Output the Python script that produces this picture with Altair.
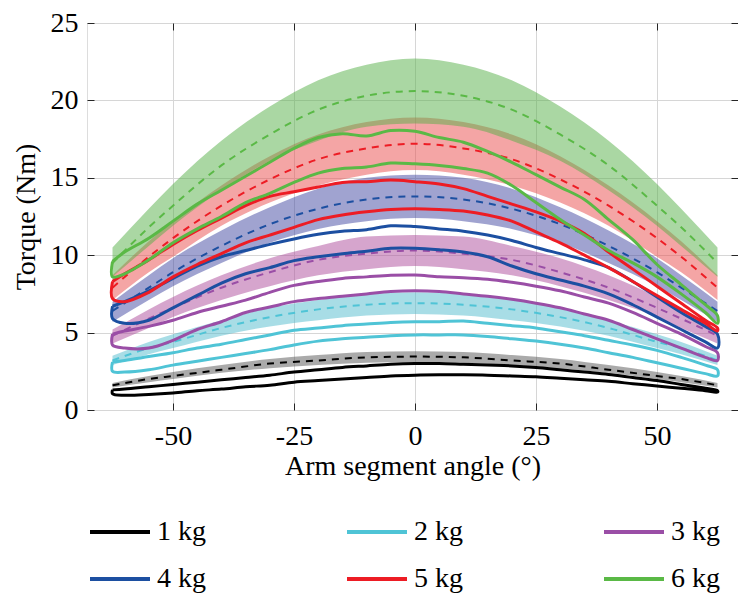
import altair as alt
import pandas as pd

masses = ["1 kg", "2 kg", "3 kg", "4 kg", "5 kg", "6 kg"]
line_colors = ["#000000", "#4fc4d6", "#9a4ea6", "#1c4fa1", "#ed1c24", "#5ab946"]
band_colors = ["#555555", "#51bbcd", "#ad4b9b", "#4147a1", "#e94b4b", "#55af47"]

x_ticks = [-50, -25, 0, 25, 50]
y_ticks = [0, 5, 10, 15, 20, 25]

# ---- model (dashed) and its band ----
theta_model = [-62.5, -55, -50, -40, -30, -20, -10, 0, 10, 20, 30, 40, 50, 55, 62.5]

model_1kg = [1.6, 2.0, 2.2, 2.6, 3.0, 3.2, 3.4, 3.45, 3.4, 3.2, 3.0, 2.6, 2.2, 2.0, 1.6]
band_lo_1kg = [1.45, 1.8, 2.0, 2.4, 2.7, 2.9, 3.05, 3.1, 3.05, 2.9, 2.7, 2.4, 2.0, 1.8, 1.45]
band_hi_1kg = [1.75, 2.2, 2.45, 2.9, 3.3, 3.55, 3.75, 3.8, 3.75, 3.55, 3.3, 2.9, 2.45, 2.2, 1.75]

model_2kg = [3.2, 4.0, 4.4, 5.3, 6.0, 6.5, 6.8, 6.9, 6.8, 6.5, 6.0, 5.3, 4.4, 4.0, 3.2]
band_lo_2kg = [2.9, 3.6, 4.0, 4.8, 5.4, 5.8, 6.1, 6.2, 6.1, 5.8, 5.4, 4.8, 4.0, 3.6, 2.9]
band_hi_2kg = [3.5, 4.4, 4.9, 5.8, 6.6, 7.1, 7.5, 7.6, 7.5, 7.1, 6.6, 5.8, 4.9, 4.4, 3.5]

model_3kg = [4.8, 5.9, 6.6, 7.9, 8.9, 9.7, 10.1, 10.3, 10.1, 9.7, 8.9, 7.9, 6.6, 5.9, 4.8]
band_lo_3kg = [4.3, 5.3, 6.0, 7.1, 8.0, 8.7, 9.1, 9.3, 9.1, 8.7, 8.0, 7.1, 6.0, 5.3, 4.3]
band_hi_3kg = [5.2, 6.5, 7.3, 8.7, 9.8, 10.6, 11.2, 11.3, 11.2, 10.6, 9.8, 8.7, 7.3, 6.5, 5.2]

model_4kg = [6.4, 7.9, 8.9, 10.6, 12.0, 13.0, 13.6, 13.8, 13.6, 13.0, 12.0, 10.6, 8.9, 7.9, 6.4]
band_lo_4kg = [5.7, 7.1, 8.0, 9.5, 10.8, 11.7, 12.2, 12.4, 12.2, 11.7, 10.8, 9.5, 8.0, 7.1, 5.7]
band_hi_4kg = [7.0, 8.7, 9.8, 11.6, 13.1, 14.3, 15.0, 15.2, 15.0, 14.3, 13.1, 11.6, 9.8, 8.7, 7.0]

model_5kg = [7.9, 9.9, 11.1, 13.2, 14.9, 16.2, 16.9, 17.2, 16.9, 16.2, 14.9, 13.2, 11.1, 9.9, 7.9]
band_lo_5kg = [7.1, 8.9, 9.9, 11.9, 13.4, 14.5, 15.2, 15.5, 15.2, 14.5, 13.4, 11.9, 9.9, 8.9, 7.1]
band_hi_5kg = [8.7, 10.9, 12.2, 14.5, 16.4, 17.8, 18.6, 18.9, 18.6, 17.8, 16.4, 14.5, 12.2, 10.9, 8.7]

model_6kg = [9.5, 11.8, 13.2, 15.8, 17.8, 19.4, 20.3, 20.6, 20.3, 19.4, 17.8, 15.8, 13.2, 11.8, 9.5]
band_lo_6kg = [8.6, 10.6, 11.9, 14.2, 16.1, 17.4, 18.3, 18.5, 18.3, 17.4, 16.1, 14.2, 11.9, 10.6, 8.6]
band_hi_6kg = [10.5, 13.0, 14.6, 17.4, 19.6, 21.3, 22.3, 22.7, 22.3, 21.3, 19.6, 17.4, 14.6, 13.0, 10.5]

# ---- measured loops (upper and lower branch) ----
theta_meas = [-62.5, -60, -55, -50, -45, -40, -35, -30, -25, -20, -15, -10, -5, 0,
              5, 10, 15, 20, 25, 30, 35, 40, 45, 50, 55, 60, 62.5]

meas_up_1kg = [1.3, 1.35, 1.5, 1.65, 1.8, 1.95, 2.1, 2.25, 2.45, 2.6, 2.75, 2.85, 2.95, 3.0,
               3.0, 2.95, 2.9, 2.85, 2.75, 2.6, 2.45, 2.3, 2.1, 1.9, 1.65, 1.4, 1.25]
meas_lo_1kg = [1.05, 0.95, 1.0, 1.1, 1.25, 1.35, 1.5, 1.6, 1.8, 1.9, 2.0, 2.1, 2.2, 2.25,
               2.27, 2.27, 2.25, 2.2, 2.15, 2.05, 1.95, 1.85, 1.7, 1.55, 1.4, 1.25, 1.15]

meas_up_2kg = [3.1, 3.2, 3.45, 3.7, 4.0, 4.25, 4.55, 4.85, 5.15, 5.3, 5.45, 5.55, 5.65, 5.7,
               5.7, 5.75, 5.6, 5.45, 5.3, 5.05, 4.8, 4.5, 4.2, 3.85, 3.4, 2.9, 2.6]
meas_lo_2kg = [2.5, 2.45, 2.6, 2.9, 3.15, 3.4, 3.65, 3.9, 4.2, 4.45, 4.6, 4.7, 4.8, 4.85,
               4.85, 4.85, 4.75, 4.6, 4.45, 4.25, 4.0, 3.7, 3.4, 3.05, 2.7, 2.35, 2.2]

meas_up_3kg = [4.9, 5.1, 5.4, 5.8, 6.3, 6.7, 7.1, 7.6, 8.05, 8.3, 8.5, 8.6, 8.7, 8.72,
               8.6, 8.55, 8.45, 8.25, 8.0, 7.7, 7.3, 6.9, 6.3, 5.6, 4.9, 4.1, 3.7]
meas_lo_3kg = [4.2, 4.0, 4.0, 4.5, 5.2, 5.7, 6.3, 6.65, 7.0, 7.2, 7.35, 7.5, 7.65, 7.7,
               7.65, 7.5, 7.35, 7.15, 6.9, 6.6, 6.2, 5.8, 5.2, 4.6, 4.0, 3.4, 3.2]

meas_up_4kg = [6.7, 7.0, 7.7, 8.5, 9.3, 9.9, 10.3, 10.7, 11.05, 11.35, 11.55, 11.65, 11.9, 11.85,
               11.7, 11.55, 11.3, 10.95, 10.5, 10.1, 9.7, 9.2, 8.3, 7.3, 6.3, 5.4, 4.9]
meas_lo_4kg = [5.9, 5.6, 5.8, 6.6, 7.4, 8.2, 8.8, 9.2, 9.65, 9.9, 10.1, 10.25, 10.45, 10.45,
               10.35, 10.2, 9.9, 9.3, 8.8, 8.4, 8.0, 7.5, 6.8, 6.0, 5.2, 4.4, 4.0]

meas_up_5kg = [8.3, 8.8, 9.7, 10.7, 11.6, 12.4, 13.2, 13.8, 14.1, 14.4, 14.7, 14.75, 14.85, 14.75,
               14.6, 14.3, 13.8, 13.3, 12.8, 12.2, 11.4, 10.2, 9.1, 8.0, 6.9, 5.8, 5.3]
meas_lo_5kg = [7.2, 7.0, 7.6, 8.6, 9.4, 10.1, 10.8, 11.3, 11.8, 12.3, 12.6, 12.8, 12.95, 13.0,
               12.95, 12.85, 12.6, 12.2, 11.5, 10.8, 10.0, 9.2, 8.3, 7.4, 6.5, 5.6, 5.1]

meas_up_6kg = [9.6, 10.2, 11.1, 12.2, 13.3, 14.2, 15.1, 16.0, 16.9, 17.6, 17.85, 17.7, 18.05, 18.0,
               17.6, 17.3, 16.7, 16.0, 15.2, 14.4, 13.6, 12.3, 11.0, 9.4, 8.1, 6.8, 6.1]
meas_lo_6kg = [8.6, 8.8, 9.7, 10.8, 11.7, 12.5, 13.4, 14.0, 14.7, 15.3, 15.6, 15.7, 15.95, 15.9,
               15.8, 15.6, 15.3, 14.5, 13.4, 12.3, 11.3, 10.3, 9.5, 8.6, 7.5, 6.3, 5.6]

model = [model_1kg, model_2kg, model_3kg, model_4kg, model_5kg, model_6kg]
band_lo = [band_lo_1kg, band_lo_2kg, band_lo_3kg, band_lo_4kg, band_lo_5kg, band_lo_6kg]
band_hi = [band_hi_1kg, band_hi_2kg, band_hi_3kg, band_hi_4kg, band_hi_5kg, band_hi_6kg]
meas_up = [meas_up_1kg, meas_up_2kg, meas_up_3kg, meas_up_4kg, meas_up_5kg, meas_up_6kg]
meas_lo = [meas_lo_1kg, meas_lo_2kg, meas_lo_3kg, meas_lo_4kg, meas_lo_5kg, meas_lo_6kg]

rows_model = []
for m, mod, lo, hi in zip(masses, model, band_lo, band_hi):
    for t, a, b, c in zip(theta_model, mod, lo, hi):
        rows_model.append({"band_mass": m, "model_mass": m, "theta": t,
                           "torque": a, "lo": b, "hi": c})
df_model = pd.DataFrame(rows_model)

rows_meas = []
for m, up, lo in zip(masses, meas_up, meas_lo):
    k = 0
    for t, v in zip(theta_meas, up):
        rows_meas.append({"mass": m, "theta": t, "torque": v, "k": k}); k += 1
    for t, v in zip(theta_meas[::-1], lo[::-1]):
        rows_meas.append({"mass": m, "theta": t, "torque": v, "k": k}); k += 1
    rows_meas.append({"mass": m, "theta": theta_meas[0], "torque": up[0], "k": k})
df_meas = pd.DataFrame(rows_meas)

FONT = "Liberation Serif"
AX = "#262626"
GRID = "#d6d6d6"

xscale = alt.Scale(domain=[-67.77, 66.74], nice=False, zero=False)
yscale = alt.Scale(domain=[0, 25], nice=False)

x_main = alt.X("theta:Q", scale=xscale, axis=alt.Axis(
    orient="bottom", values=x_ticks, offset=-7, tickSize=7, tickColor=AX, domain=False,
    grid=True, gridColor=GRID, gridWidth=1, labelExpr="'' + datum.value",
    labelFont=FONT, labelFontSize=28, labelColor="black", labelPadding=12,
    title="Arm segment angle (°)", titleFont=FONT, titleFontSize=28, titleFontWeight="normal",
    titleColor="black", titlePadding=2))
y_main = alt.Y("lo:Q", scale=yscale, axis=alt.Axis(
    orient="left", values=y_ticks, offset=-7, tickSize=7, tickColor=AX, domain=False,
    grid=True, gridColor=GRID, gridWidth=1, labelExpr="'' + datum.value",
    labelFont=FONT, labelFontSize=28, labelColor="black", labelPadding=9,
    title="Torque (Nm)", titleFont=FONT, titleFontSize=28, titleFontWeight="normal",
    titleColor="black", titlePadding=10))

bands = alt.Chart(df_model).mark_area(interpolate="monotone", opacity=0.5).encode(
    x=x_main,
    y=y_main,
    y2="hi:Q",
    fill=alt.Fill("band_mass:N", scale=alt.Scale(range=band_colors), legend=None),
    detail="band_mass:N",
)

dashed = alt.Chart(df_model).mark_line(interpolate="monotone", strokeDash=[7, 6], strokeWidth=2).encode(
    x=alt.X("theta:Q", scale=xscale, axis=alt.Axis(
        orient="top", values=x_ticks, offset=-7, tickSize=7, tickColor=AX, domain=False,
        grid=False, labels=False, title=None)),
    y=alt.Y("torque:Q", scale=yscale, axis=alt.Axis(
        orient="right", values=y_ticks, offset=-7, tickSize=7, tickColor=AX, domain=False,
        grid=False, labels=False, title=None)),
    stroke=alt.Stroke("model_mass:N", scale=alt.Scale(range=line_colors), legend=None),
)

measured = alt.Chart(df_meas).mark_line(interpolate="catmull-rom", strokeWidth=3, strokeJoin="round").encode(
    x=alt.X("theta:Q", scale=xscale, axis=None),
    y=alt.Y("torque:Q", scale=yscale, axis=None),
    color=alt.Color("mass:N", scale=alt.Scale(domain=masses, range=line_colors), legend=alt.Legend(
        orient="none", legendX=1, legendY=477, columns=3, direction="horizontal",
        title=None, symbolType="stroke", symbolSize=3600, symbolStrokeWidth=4,
        labelFont=FONT, labelFontSize=28, labelColor="black", labelOffset=5,
        columnPadding=133, rowPadding=1, padding=0)),
    order="k:Q",
)

chart = alt.layer(bands, dashed, measured).properties(
    width=651, height=387,
    autosize=alt.AutoSizeParams(type="none"),
    padding={"left": 87, "top": 23, "right": 0, "bottom": 187},
).configure_view(stroke=AX, strokeWidth=1).configure(background="white")

chart.save("out.html", embed_options={"renderer": "svg", "actions": False})
